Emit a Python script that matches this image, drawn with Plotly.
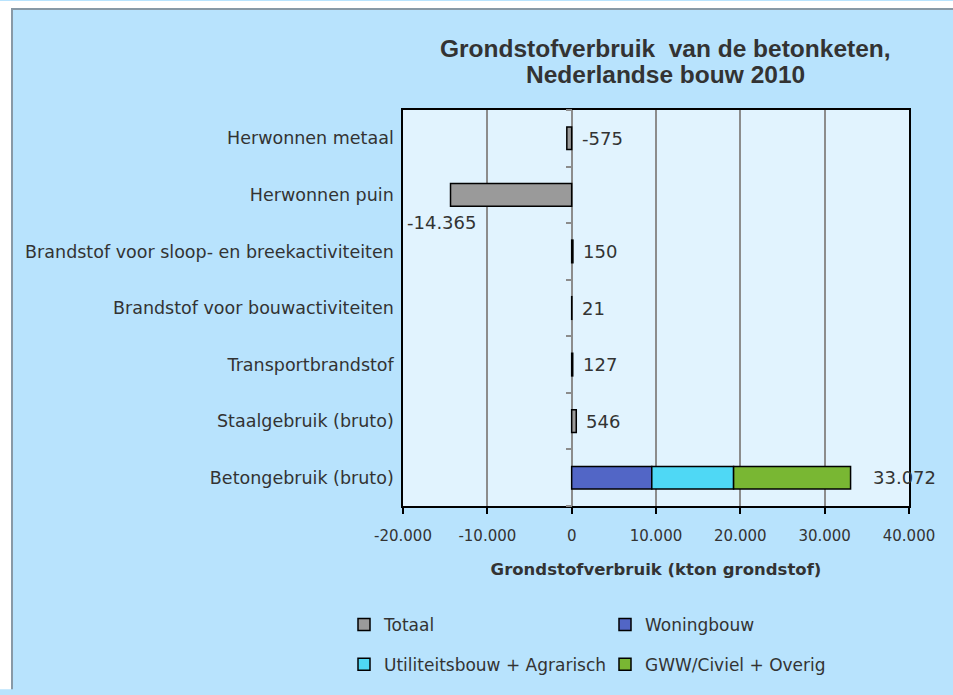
import plotly.graph_objects as go

# ---- data ----
categories = [
    "Herwonnen metaal",
    "Herwonnen puin",
    "Brandstof voor sloop- en breekactiviteiten",
    "Brandstof voor bouwactiviteiten",
    "Transportbrandstof",
    "Staalgebruik (bruto)",
    "Betongebruik (bruto)",
]
totaal = [-575, -14365, 150, 21, 127, 546, None]
woningbouw = [None, None, None, None, None, None, 9500]
utiliteit = [None, None, None, None, None, None, 9700]
gww = [None, None, None, None, None, None, 13872]
beton_totaal = 33072
x_ticks = [-20000, -10000, 0, 10000, 20000, 30000, 40000]
title_lines = ["Grondstofverbruik  van de betonketen,", "Nederlandse bouw 2010"]


def fmt(v):
    s = f"{abs(v):,}".replace(",", ".")
    return ("-" if v < 0 else "") + s


x_ticktext = [fmt(v) for v in x_ticks]

# ---- layout geometry (pixels) ----
W, H = 953, 695
ML, MR, MT, MB = 403, 44, 110, 185
PW, PH = W - ML - MR, H - MT - MB


def px(xp):
    return (xp - ML) / PW


def py(yp):
    return (H - MB - yp) / PH


FONT = "DejaVu Sans"
TXT = "#333333"
EDGE = dict(color="black", width=1.5)

fig = go.Figure()
fig.add_trace(go.Bar(y=categories, x=totaal, orientation="h", name="Totaal",
                     marker=dict(color="#9a9a9a", line=EDGE), legend="legend"))
fig.add_trace(go.Bar(y=categories, x=woningbouw, orientation="h", name="Woningbouw",
                     marker=dict(color="#5266c6", line=EDGE), legend="legend"))
fig.add_trace(go.Bar(y=categories, x=utiliteit, orientation="h", name="Utiliteitsbouw + Agrarisch",
                     marker=dict(color="#4fd8f5", line=EDGE), legend="legend2"))
fig.add_trace(go.Bar(y=categories, x=gww, orientation="h", name="GWW/Civiel + Overig",
                     marker=dict(color="#79b733", line=EDGE), legend="legend2"))
# empty helper trace so the category-boundary tick axis at x=0 is drawn
fig.add_trace(go.Scatter(x=[None], y=[None], yaxis="y2", showlegend=False, hoverinfo="skip"))

LBL = dict(family=FONT, size=18, color=TXT)
annotations = []
for cat, v in zip(categories, totaal):
    if v is None:
        continue
    if v < -5000:
        annotations.append(dict(x=v, y=cat, text=fmt(v), showarrow=False,
                                xanchor="center", yanchor="middle", xshift=-9, yshift=-28,
                                font=LBL))
    else:
        annotations.append(dict(x=max(v, 0), y=cat, text=fmt(v), showarrow=False,
                                xanchor="left", yanchor="middle", xshift=8,
                                font=LBL))
annotations.append(dict(x=beton_totaal, y=categories[-1], text=fmt(beton_totaal), showarrow=False,
                        xanchor="left", yanchor="middle", xshift=20, font=LBL))

# chart title (two lines, tight line spacing as in the original)
TFONT = dict(family="Liberation Sans", size=24.5, color="#333333", weight="bold")
annotations.append(dict(xref="paper", yref="paper", x=px(665), y=py(48), text=title_lines[0],
                        showarrow=False, xanchor="center", yanchor="middle", font=TFONT))
annotations.append(dict(xref="paper", yref="paper", x=px(665), y=py(74), text=title_lines[1],
                        showarrow=False, xanchor="center", yanchor="middle", font=TFONT))

shapes = [
    # white page edge left and top, grey frame
    dict(type="rect", xref="paper", yref="paper", x0=px(0), x1=px(11), y0=py(H), y1=py(0),
         fillcolor="white", line=dict(width=0), layer="above"),
    dict(type="rect", xref="paper", yref="paper", x0=px(0), x1=px(W), y0=py(7), y1=py(0),
         fillcolor="white", line=dict(width=0), layer="above"),
    dict(type="line", xref="paper", yref="paper", x0=px(12), x1=px(12), y0=py(H), y1=py(8),
         line=dict(color="#8899a6", width=2), layer="above"),
    dict(type="line", xref="paper", yref="paper", x0=px(11), x1=px(W), y0=py(8), y1=py(8),
         line=dict(color="#8899a6", width=2), layer="above"),
]

n = len(categories)
boundaries = [i - 0.5 for i in range(n + 1)]

fig.update_layout(
    width=W, height=H,
    margin=dict(l=ML, r=MR, t=MT, b=MB, pad=0),
    paper_bgcolor="#b8e3fd",
    plot_bgcolor="#e1f3fe",
    separators=",.",
    barmode="relative",
    bargap=0.6,
    showlegend=True,
    font=dict(family=FONT, size=18, color=TXT),
    xaxis=dict(range=[-20000, 40000], tickvals=x_ticks, ticktext=x_ticktext,
               showgrid=True, gridcolor="#8c8c8c", gridwidth=1.5,
               zeroline=True, zerolinecolor="#8c8c8c", zerolinewidth=1.5,
               showline=True, linecolor="black", linewidth=1.5, mirror=True,
               ticks="outside", ticklen=6, tickcolor="black", tickwidth=1.5,
               ticklabelstandoff=9,
               tickfont=dict(family=FONT, size=15, color=TXT),
               title=dict(text="<b>Grondstofverbruik (kton grondstof)</b>",
                          font=dict(family=FONT, size=16.5, color=TXT), standoff=20)),
    yaxis=dict(categoryorder="array", categoryarray=categories, autorange="reversed",
               showgrid=False, showline=True, linecolor="black", linewidth=1.5, mirror=True,
               ticks="", ticklabelstandoff=4,
               tickfont=dict(family=FONT, size=17.5, color=TXT)),
    yaxis2=dict(overlaying="y", anchor="free", position=1 / 3, side="left",
                range=[n - 0.5, -0.5], tickvals=boundaries, showticklabels=False,
                ticks="outside", ticklen=6, tickcolor="#8c8c8c", tickwidth=1.5,
                showgrid=False, showline=False, zeroline=False, fixedrange=True),
    legend=dict(orientation="h", x=px(344), y=py(612), xanchor="left", yanchor="top",
                entrywidth=216, bgcolor="rgba(0,0,0,0)",
                font=dict(family=FONT, size=17, color=TXT), traceorder="normal"),
    legend2=dict(orientation="h", x=px(344), y=py(652), xanchor="left", yanchor="top",
                 entrywidth=216, bgcolor="rgba(0,0,0,0)",
                 font=dict(family=FONT, size=17, color=TXT), traceorder="normal"),
    annotations=annotations,
    shapes=shapes,
)

fig.write_html("out.html", config={"displayModeBar": False},
               post_script="document.body.style.margin='0';document.body.style.overflow='hidden';")
